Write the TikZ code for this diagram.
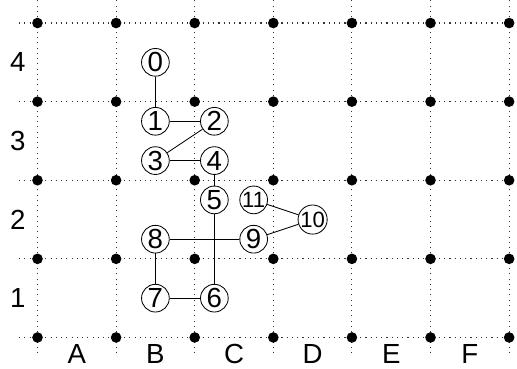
\documentclass[tikz,border=0pt]{standalone}
\usepackage{fontspec}
\setmainfont{Liberation Sans}
\usetikzlibrary{positioning}

\begin{document}
\begin{tikzpicture}[x=2cm, y=2cm, font=\fontsize{20}{22}\selectfont,
  cell/.style={draw, circle, minimum size=0.705cm, inner sep=0pt, line width=0.6pt, fill=white},
  wide/.style={cell, font=\fontsize{16}{16}\selectfont},
  gridline/.style={dash pattern=on 0.8pt off 3pt, line width=0.8pt, black!80},
  dot/.style={circle, fill, inner sep=0pt, minimum size=0.27cm}]
  \useasboundingbox (-0.477,-0.395) rectangle (6.1,4.293);
  % dotted grid with dots on the crossings
  \foreach \y in {0,...,4}
    \draw[gridline] (-0.235,\y) -- (6.3,\y);
  \foreach \x in {0,...,6}
    \draw[gridline] (\x,-0.2) -- (\x,4.3);
  \foreach \x in {0,...,6}
    \foreach \y in {0,...,4}
      \node[dot] (d\x\y) at (\x,\y) {};
  % column and row names
  \foreach \l [count=\i] in {A,...,F}
    \node (col\l) at (\i-0.5,-0.215) {\l};
  \foreach \i in {1,...,4}
    \node (row\i) at (-0.25,\i-0.5) {\i};
  % path cells
  \node[cell] (c0) at (1.5,3.5) {0};
  \node[cell] (c1) at (1.5,2.75) {1};
  \node[cell] (c2) at (2.25,2.75) {2};
  \node[cell] (c3) at (1.5,2.25) {3};
  \node[cell] (c4) at (2.25,2.25) {4};
  \node[cell] (c5) at (2.25,1.75) {5};
  \node[cell] (c6) at (2.25,0.5) {6};
  \node[cell] (c7) at (1.5,0.5) {7};
  \node[cell] (c8) at (1.5,1.25) {8};
  \node[cell] (c9) at (2.75,1.25) {9};
  \node[wide] (c10) at (3.5,1.5) {10};
  \node[wide] (c11) at (2.75,1.75) {11};
  % links between consecutive cells
  \foreach \a/\b in {0/1, 1/2, 2/3, 3/4, 4/5, 5/6, 6/7, 7/8, 8/9, 9/10, 10/11}
    \draw[line width=0.6pt] (c\a) -- (c\b);
\end{tikzpicture}
\end{document}
